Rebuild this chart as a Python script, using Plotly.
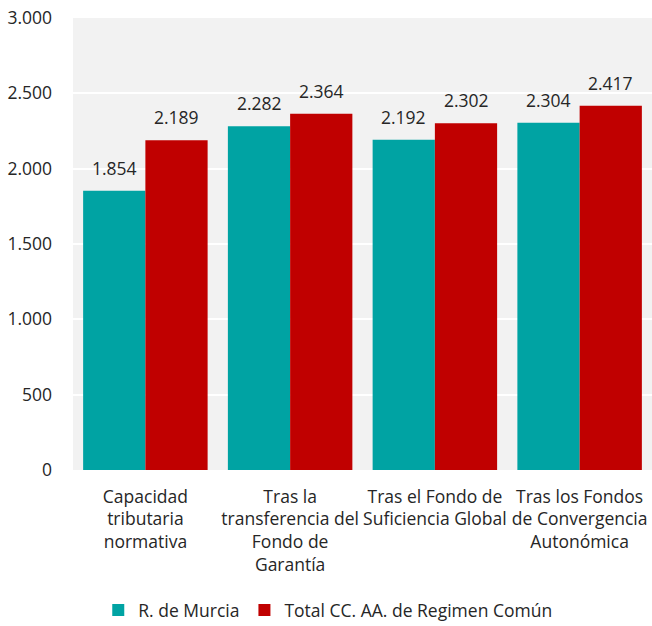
import plotly.graph_objects as go

# Categories (multi-line axis labels)
categories = [
    "Capacidad<br>tributaria<br>normativa",
    "Tras la<br>transferencia del<br>Fondo de<br>Garantía",
    "Tras el Fondo de<br>Suficiencia Global",
    "Tras los Fondos<br>de Convergencia<br>Autonómica",
]
murcia = [1854, 2282, 2192, 2304]
total_ccaa = [2189, 2364, 2302, 2417]
series_names = ["R. de Murcia", "Total CC. AA. de Regimen Común"]
y_ticks = [0, 500, 1000, 1500, 2000, 2500, 3000]

TEAL = "#00A3A3"
RED = "#C00000"
TEXT = "#262626"
FONT = "Open Sans, Noto Sans, sans-serif"
FS = 17.5

W, H = 652, 626
M = dict(l=73, r=0, t=18, b=156, autoexpand=False)
BARGAP = 0.14


def fmt(v):
    return f"{v:,}".replace(",", ".")


fig = go.Figure()
fig.add_trace(go.Bar(name=series_names[0], x=categories, y=murcia,
                     marker=dict(color=TEAL, line=dict(width=0))))
fig.add_trace(go.Bar(name=series_names[1], x=categories, y=total_ccaa,
                     marker=dict(color=RED, line=dict(width=0))))

# value labels above each bar, shifted onto the bar centres
plot_w = W - M["l"] - M["r"]
bar_px = plot_w / len(categories) * (1 - BARGAP) / 2
annotations = []
for cat, a, b in zip(categories, murcia, total_ccaa):
    for val, dx in ((a, -bar_px / 2), (b, bar_px / 2)):
        annotations.append(dict(
            x=cat, y=val, xref="x", yref="y", text=fmt(val),
            showarrow=False, yanchor="bottom", xshift=dx, yshift=9,
            font=dict(family=FONT, size=FS, color=TEXT)))

fig.update_layout(
    width=W, height=H, margin=M,
    paper_bgcolor="white", plot_bgcolor="#F2F2F2",
    barmode="group", bargap=BARGAP, bargroupgap=0,
    font=dict(family=FONT, size=FS, color=TEXT),
    annotations=annotations,
    showlegend=True,
    legend=dict(orientation="h", x=0.44, xanchor="center", y=-0.31,
                yanchor="middle", font=dict(family=FONT, size=FS, color=TEXT),
                itemwidth=30, traceorder="normal"),
)
fig.update_yaxes(range=[0, 3000], tickvals=y_ticks,
                 ticktext=[fmt(v) for v in y_ticks],
                 showgrid=True, gridcolor="white", gridwidth=1.5,
                 zeroline=False, showline=False, ticks="",
                 ticklabelstandoff=20, tickfont=dict(size=FS, color=TEXT))
fig.update_xaxes(showgrid=False, showline=False, ticks="",
                 tickangle=0, ticklabelstandoff=14,
                 tickfont=dict(size=FS, color=TEXT))

fig.write_html("out.html")
